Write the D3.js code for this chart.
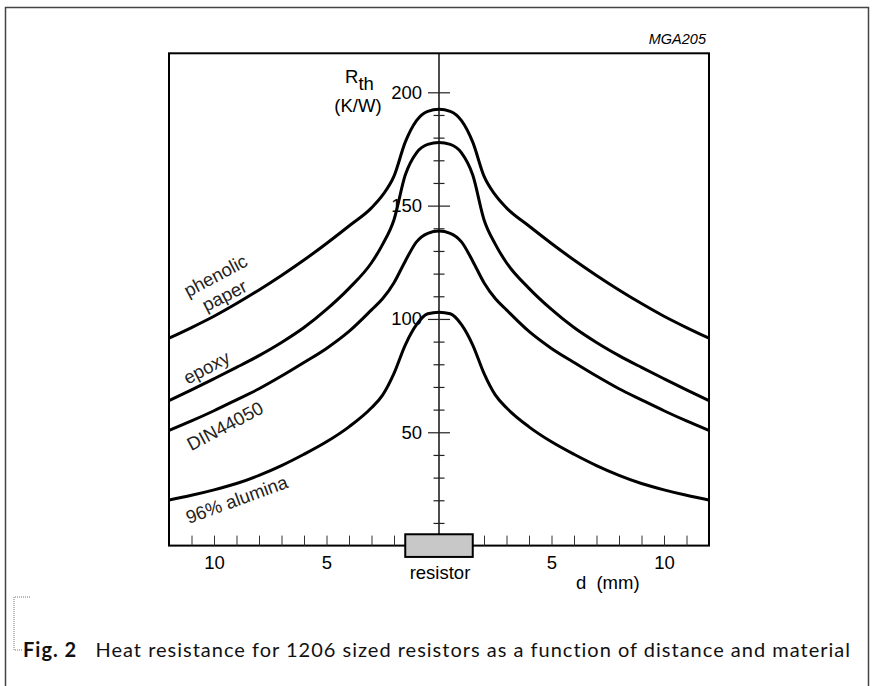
<!DOCTYPE html>
<html>
<head>
<meta charset="utf-8">
<script src="https://cdn.jsdelivr.net/npm/d3@7"></script>
<style>
  body { margin: 0; background: #fff; }
  svg { display: block; }
  .axis text { font-family: "Liberation Sans", Arial, sans-serif; font-size: 18.5px; fill: #000; }
  .lbl { font-family: "Liberation Sans", Arial, sans-serif; font-size: 18.5px; fill: #000; }
</style>
</head>
<body>
<div id="vis-container"></div>
<script>
// distance from resistor centre (mm)
var distance = [-12, -11, -10, -9, -8, -7, -6, -5, -4, -3, -2.5, -2, -1.5, -1, -0.5, 0,
                0.5, 1, 1.5, 2, 2.5, 3, 4, 5, 6, 7, 8, 9, 10, 11, 12];

// R_th (K/W)
var phenolic = [91.5, 96.2, 101.2, 106.8, 112.8, 119.2, 126, 133.3, 141, 149, 154.7, 163, 178, 187.5, 191.6, 192.5,
                191.6, 187.5, 178, 163, 154.7, 149, 141, 133.3, 126, 119.2, 112.8, 106.8, 101.2, 96.2, 91.5];
var epoxy    = [64, 68.7, 73.6, 78.6, 83.8, 89.6, 96.2, 104.2, 113.5, 124.8, 133, 143.8, 163.5, 173.3, 177, 177.8,
                177, 173.3, 163.5, 143.8, 133, 124.8, 113.5, 104.2, 96.2, 89.6, 83.8, 78.6, 73.6, 68.7, 64];
var din44050 = [50.8, 55, 59.5, 64.3, 69.2, 74.8, 80.8, 87, 94.5, 104, 109, 116, 125.5, 134, 137.8, 138.8,
                137.8, 134, 125.5, 116, 109, 104, 94.5, 87, 80.8, 74.8, 69.2, 64.3, 59.5, 55, 50.8];
var alumina  = [20.1, 22.2, 24.6, 27.4, 31, 35.3, 40.3, 45.8, 52.4, 60.8, 66.5, 76, 88.5, 97.5, 102.3, 103,
                102.3, 97.5, 88.5, 76, 66.5, 60.8, 52.4, 45.8, 40.3, 35.3, 31, 27.4, 24.6, 22.2, 20.1];

var seriesNames = ["phenolic paper", "epoxy", "DIN44050", "96% alumina"];
var seriesValues = [phenolic, epoxy, din44050, alumina];

var yMajor = [50, 100, 150, 200];
var yMinor = [10, 20, 30, 40, 60, 70, 80, 90, 110, 120, 130, 140, 160, 170, 180, 190];
var xMinor = [-11, -10, -9, -8, -7, -6, -5, -4, -3, -2, 2, 3, 4, 5, 6, 7, 8, 9, 10, 11];
var xLabels = [-10, -5, 5, 10];
var resistorHalf = 1.5;   // mm
var resistorH = 5;        // K/W units, box drawn symmetric around the axis

var W = 876, H = 686;
var svg = d3.select("#vis-container").append("svg")
    .attr("width", W).attr("height", H);

// outer page frame
svg.append("path")
    .attr("d", "M5.5," + (H + 5) + "V7.5H868.5V" + (H + 5))
    .attr("fill", "none").attr("stroke", "#444").attr("stroke-width", 1.5);

var xScale = d3.scaleLinear().domain([-12, 12]).range([169, 709]);
var yScale = d3.scaleLinear().domain([0, 200]).range([545.6, 92.3]);
var plotTop = 53.3;

// plot frame
svg.append("rect")
    .attr("x", xScale(-12)).attr("y", plotTop)
    .attr("width", xScale(12) - xScale(-12))
    .attr("height", yScale(0) - plotTop)
    .attr("fill", "none").attr("stroke", "#000").attr("stroke-width", 2);

svg.append("text")
    .attr("x", 706).attr("y", 44)
    .attr("text-anchor", "end")
    .style("font-family", "Liberation Sans, Arial, sans-serif")
    .style("font-style", "italic").style("font-size", "14.5px")
    .text("MGA205");

// x axis ticks (pointing up)
svg.append("g")
    .attr("class", "axis")
    .attr("transform", "translate(0," + yScale(0) + ")")
    .call(d3.axisTop(xScale).tickValues(xMinor).tickSize(10).tickFormat(""))
    .call(function(g) { g.select(".domain").remove(); })
    .selectAll("line").attr("stroke", "#333");

svg.append("g")
    .attr("class", "axis")
    .attr("transform", "translate(0," + yScale(0) + ")")
    .call(d3.axisBottom(xScale).tickValues(xLabels).tickSize(0).tickPadding(10)
          .tickFormat(function(d) { return Math.abs(d); }))
    .call(function(g) { g.select(".domain").remove(); });

// y axis through resistor centre
var x0 = xScale(0);
svg.append("line")
    .attr("x1", x0).attr("x2", x0)
    .attr("y1", plotTop).attr("y2", yScale(resistorH))
    .attr("stroke", "#000").attr("stroke-width", 1.4);

function yTicks(vals, size, withLabels) {
  var gl = svg.append("g").attr("class", "axis")
      .attr("transform", "translate(" + x0 + ",0)")
      .call(d3.axisLeft(yScale).tickValues(vals).tickSize(size).tickPadding(6)
            .tickFormat(withLabels ? d3.format("d") : ""));
  gl.select(".domain").remove();
  gl.selectAll("line").attr("stroke", "#222").attr("stroke-width", 1.2);
  var gr = svg.append("g").attr("class", "axis")
      .attr("transform", "translate(" + x0 + ",0)")
      .call(d3.axisRight(yScale).tickValues(vals).tickSize(size).tickFormat(""));
  gr.select(".domain").remove();
  gr.selectAll("line").attr("stroke", "#222").attr("stroke-width", 1.2);
}
yTicks(yMajor, 11, true);
yTicks(yMinor, 5.5, false);

// y axis title
var rth = svg.append("text").attr("class", "lbl").attr("x", 345).attr("y", 83);
rth.append("tspan").text("R");
rth.append("tspan").attr("dy", 7).text("th");
svg.append("text").attr("class", "lbl")
    .attr("x", 358).attr("y", 111.5).attr("text-anchor", "middle")
    .text("(K/W)");

// curves
var line = d3.line()
    .x(function(d, i) { return xScale(distance[i]); })
    .y(function(d) { return yScale(d); })
    .curve(d3.curveMonotoneX);

svg.append("g").selectAll("path")
    .data(seriesValues)
    .enter().append("path")
    .attr("d", line)
    .attr("fill", "none")
    .attr("stroke", "#000")
    .attr("stroke-width", 3);

// resistor block
svg.append("rect")
    .attr("x", xScale(-resistorHalf)).attr("y", yScale(resistorH))
    .attr("width", xScale(resistorHalf) - xScale(-resistorHalf))
    .attr("height", yScale(-resistorH) - yScale(resistorH))
    .attr("fill", "#c8c8c8").attr("stroke", "#000").attr("stroke-width", 2);

svg.append("text").attr("class", "lbl")
    .attr("x", x0 + 1).attr("y", 579).attr("text-anchor", "middle")
    .text("resistor");

svg.append("text").attr("class", "lbl")
    .attr("x", xScale(7.5)).attr("y", 589).attr("text-anchor", "middle")
    .text("d\u00a0 (mm)");

// curve labels
var curveLabels = [
  { t: "phenolic", x: 215.5, y: 275.5, a: -28 },
  { t: "paper", x: 224.5, y: 295.5, a: -27 },
  { t: "epoxy", x: 206.5, y: 367.5, a: -28 },
  { t: "DIN44050", x: 225, y: 426, a: -28 },
  { t: "96% alumina", x: 236.7, y: 499.5, a: -20 }
];
svg.append("g").selectAll("text")
    .data(curveLabels)
    .enter().append("text")
    .attr("class", "lbl")
    .style("fill", "#222")
    .attr("text-anchor", "middle")
    .attr("dominant-baseline", "central")
    .attr("transform", function(d) { return "translate(" + d.x + "," + d.y + ") rotate(" + d.a + ")"; })
    .text(function(d) { return d.t; });

// caption with dotted bracket
svg.append("path")
    .attr("d", "M30,597H14V650H22")
    .attr("fill", "none").attr("stroke", "#777")
    .attr("stroke-width", 1).attr("stroke-dasharray", "1,1");

var cap = svg.append("text")
    .attr("x", 23).attr("y", 657)
    .style("font-family", "Lato, 'Open Sans', sans-serif")
    .style("font-size", "20px").style("letter-spacing", "1px").style("fill", "#111");
cap.append("tspan").style("font-weight", "bold").text("Fig. 2");
cap.append("tspan")
    .text("\u00a0\u00a0 Heat resistance for 1206 sized resistors as a function of distance and material");
</script>
</body>
</html>
